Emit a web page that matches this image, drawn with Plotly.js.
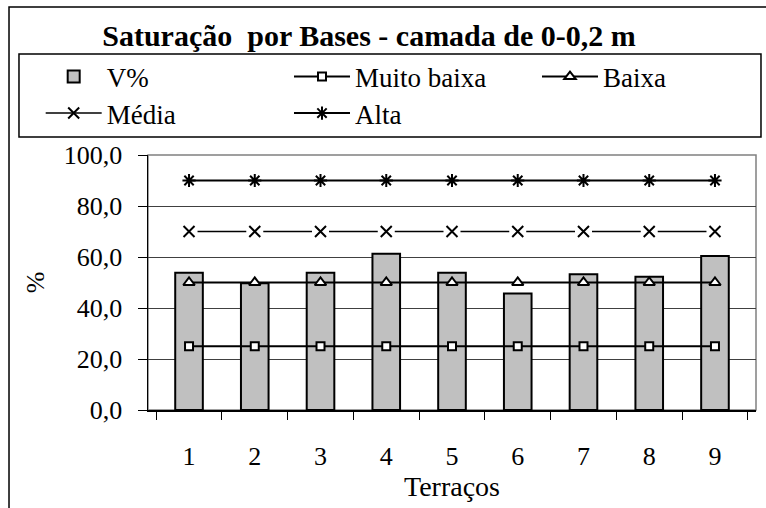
<!DOCTYPE html>
<html>
<head>
<meta charset="utf-8">
<script src="https://cdn.plot.ly/plotly-3.0.1.min.js"></script>
<style>
  html, body { margin: 0; padding: 0; background: #fff; }
  #chart { width: 766px; height: 508px; }
</style>
</head>
<body>
<div id="chart"></div>
<script>
// Terraços (categorias do eixo x)
const terracos = ['1', '2', '3', '4', '5', '6', '7', '8', '9'];

// Saturação por bases medida (V%) em cada terraço
const vPercent = [53.8, 49.7, 53.8, 61.3, 53.8, 45.7, 53.2, 52.3, 60.4];

// Limites das classes de interpretação (%)
const muitoBaixa = [25, 25, 25, 25, 25, 25, 25, 25, 25];
const baixa      = [50, 50, 50, 50, 50, 50, 50, 50, 50];
const media      = [70, 70, 70, 70, 70, 70, 70, 70, 70];
const alta       = [90, 90, 90, 90, 90, 90, 90, 90, 90];

const serif = 'Liberation Serif, Times New Roman, serif';
const black = '#000000';

const lineStyle = { color: black, width: 2 };

const traces = [
  {
    type: 'bar', name: 'V%', x: terracos, y: vPercent,
    marker: { color: '#c0c0c0', line: { color: black, width: 2 } },
    width: 0.42, legend: 'legend', hoverinfo: 'x+y'
  },
  {
    type: 'scatter', mode: 'lines+markers', name: 'Muito baixa',
    x: terracos, y: muitoBaixa, line: lineStyle, legend: 'legend2',
    marker: { symbol: 'square', size: 8, color: '#ffffff', line: { color: black, width: 2 } }
  },
  {
    type: 'scatter', mode: 'lines+markers', name: 'Baixa',
    x: terracos, y: baixa, line: lineStyle, legend: 'legend3',
    marker: { symbol: 'triangle-up', size: 10, color: '#ffffff', line: { color: black, width: 2 } }
  },
  {
    type: 'scatter', mode: 'lines+markers', name: 'Média',
    x: terracos, y: media, line: { color: black, width: 1.5 }, legend: 'legend4',
    marker: { symbol: 'x-thin-open', size: 11, color: black, line: { color: black, width: 2 } }
  },
  // fundo branco em torno dos marcadores "x" (interrompe a linha)
  {
    type: 'scatter', mode: 'markers', x: terracos, y: media, showlegend: false, hoverinfo: 'skip',
    marker: { symbol: 'square', size: 17, color: '#ffffff', line: { width: 0 } }
  },
  {
    type: 'scatter', mode: 'markers', x: terracos, y: media, showlegend: false, hoverinfo: 'skip',
    marker: { symbol: 'x-thin-open', size: 11, color: black, line: { color: black, width: 2 } }
  },
  {
    type: 'scatter', mode: 'lines+markers', name: 'Alta',
    x: terracos, y: alta, line: lineStyle, legend: 'legend5',
    marker: { symbol: 'asterisk-open', size: 11, color: black, line: { color: black, width: 2 } }
  }
];

// uma legenda por item, dispostas em grade dentro da moldura
function legendAt(x, y) {
  return {
    orientation: 'v', bgcolor: 'rgba(0,0,0,0)', borderwidth: 0,
    font: { family: serif, size: 27, color: black },
    itemwidth: 56,
    xanchor: 'left', yanchor: 'middle', x: x, y: y
  };
}
const col1 = -0.1765, col2 = 0.2319, col3 = 0.6398;
const row1 = 1.3059, row2 = 1.1627;

const layout = {
  width: 766, height: 508,
  margin: { l: 148, r: 10, t: 155, b: 98 },
  paper_bgcolor: '#ffffff', plot_bgcolor: '#ffffff',
  separators: ', ',
  font: { family: serif, size: 26, color: black },
  title: {
    text: '<b>Saturação  por Bases - camada de 0-0,2 m</b>',
    font: { family: serif, size: 30, color: black },
    x: 0.3635, xanchor: 'center', xref: 'paper',
    y: 0.931, yanchor: 'middle', yref: 'container'
  },
  xaxis: {
    type: 'category', tickson: 'boundaries',
    ticks: 'outside', ticklen: 8, tickwidth: 1, tickcolor: black,
    showline: true, linecolor: black, linewidth: 1.5,
    showgrid: false, ticklabelstandoff: 22,
    tickfont: { family: serif, size: 26, color: black },
    title: { text: 'Terraços', font: { family: serif, size: 28, color: black }, standoff: 2 }
  },
  yaxis: {
    range: [0, 100], dtick: 20, tickformat: '.1f',
    ticks: 'outside', ticklen: 9, tickwidth: 1, tickcolor: black,
    showline: true, linecolor: black, linewidth: 1.5,
    showgrid: true, gridcolor: '#404040', gridwidth: 1,
    zeroline: false, ticklabelstandoff: 10,
    tickfont: { family: serif, size: 26, color: black },
    title: { text: '%', font: { family: serif, size: 26, color: black }, standoff: 11 }
  },
  showlegend: true,
  legend:  legendAt(col1, row1),
  legend2: legendAt(col2, row1),
  legend3: legendAt(col3, row1),
  legend4: legendAt(col1, row2),
  legend5: legendAt(col2, row2),
  shapes: [
    // contorno da área de plotagem
    { type: 'rect', xref: 'paper', yref: 'paper', x0: 0, x1: 1, y0: 0, y1: 1,
      line: { color: '#808080', width: 1.5 }, layer: 'below' },
    // moldura da legenda
    { type: 'rect', xref: 'paper', yref: 'paper', x0: -0.2122, x1: 1.0082, y0: 1.0706, y1: 1.396,
      line: { color: black, width: 1.5 }, fillcolor: 'rgba(0,0,0,0)' },
    // moldura do gráfico
    { type: 'rect', xref: 'paper', yref: 'paper', x0: -0.2286, x1: 1.2, y0: -0.6, y1: 1.58,
      line: { color: black, width: 1.5 }, fillcolor: 'rgba(0,0,0,0)' }
  ]
};

Plotly.newPlot('chart', traces, layout, { displayModeBar: false, staticPlot: true });
</script>
</body>
</html>
